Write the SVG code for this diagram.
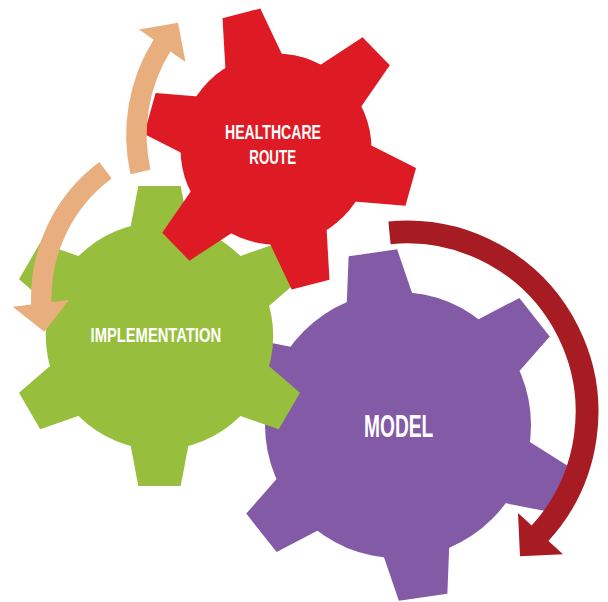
<svg xmlns="http://www.w3.org/2000/svg" xmlns:xlink="http://www.w3.org/1999/xlink" width="608" height="602" viewBox="0 0 608 602">
<style>
.red{fill:#DE1B24}
.green{fill:#97BF3D}
.purple{fill:#825AA6}
.tan{stroke:#E8AE7D;fill:none;stroke-width:20.5}
.tanh{fill:#E8AE7D}
.dred{stroke:#A61C22;fill:none;stroke-width:22.8}
.dredh{fill:#A61C22}
.lbl{font-family:"Liberation Sans","DejaVu Sans",sans-serif;font-weight:bold;fill:#FFFFFF;text-anchor:middle}
</style>
<defs>
<polygon id="tR" points="80,-31.2 140,-19.5 140,19.5 80,31.2"/>
<polygon id="tRs" points="80,-31.2 131,-21.3 131,21.3 80,31.2"/>
<polygon id="tG" points="100,-30.7 150,-21.2 150,21.2 100,30.7"/>
<polygon id="tP" points="115,-35.5 174,-24.5 174,24.5 115,35.5"/>
</defs>
<g id="model">
<g class="purple" transform="translate(398,425)">
<circle r="133"/>
<use href="#tP" transform="rotate(-98.3)"/>
<use href="#tP" transform="rotate(-38.3)"/>
<use href="#tP" transform="rotate(21.7)"/>
<use href="#tP" transform="rotate(81.7)"/>
<use href="#tP" transform="rotate(141.7)"/>
<use href="#tP" transform="rotate(201.7)"/>
</g>
<text class="lbl" x="398.7" y="437.3" font-size="30.7" textLength="69.3" lengthAdjust="spacingAndGlyphs">MODEL</text>
</g>
<g id="implementation">
<g class="green" transform="translate(159.5,336)">
<circle r="113.7"/>
<use href="#tG" transform="rotate(-90)"/>
<use href="#tG" transform="rotate(-30)"/>
<use href="#tG" transform="rotate(30)"/>
<use href="#tG" transform="rotate(90)"/>
<use href="#tG" transform="rotate(150)"/>
<use href="#tG" transform="rotate(210)"/>
</g>
<text class="lbl" x="155.8" y="342" font-size="21" textLength="130.5" lengthAdjust="spacingAndGlyphs">IMPLEMENTATION</text>
</g>
<g id="healthcare-route">
<g class="red" transform="translate(276,149)">
<circle r="95.5"/>
<use href="#tR" transform="rotate(-104.3)"/>
<use href="#tR" transform="rotate(-44.3)"/>
<use href="#tR" transform="rotate(15.7)"/>
<use href="#tR" transform="rotate(75.7)"/>
<use href="#tR" transform="rotate(135.7)"/>
<use href="#tRs" transform="rotate(195.7)"/>
</g>
<text class="lbl" x="273" y="138.5" font-size="20.5" textLength="96" lengthAdjust="spacingAndGlyphs">HEALTHCARE</text>
<text class="lbl" x="272.7" y="164" font-size="20.5" textLength="46.7" lengthAdjust="spacingAndGlyphs">ROUTE</text>
</g>
<g id="connectors">
<path class="tan" d="M140.5,172 A169.2,169.2 0 0 1 162.4,44.9"/>
<polygon class="tanh" points="139,29.5 178,22.8 185.5,62"/>
<path class="tan" d="M105.5,170.3 A159,159 0 0 0 41.45,304.8"/>
<polygon class="tanh" points="12.7,306.7 44.3,331.7 69,300"/>
<path class="dred" d="M389.5,232.85 A180,180 0 0 1 539.1,534.3"/>
<polygon class="dredh" points="563,554.2 520,556.3 518,513"/>
</g>
</svg>
